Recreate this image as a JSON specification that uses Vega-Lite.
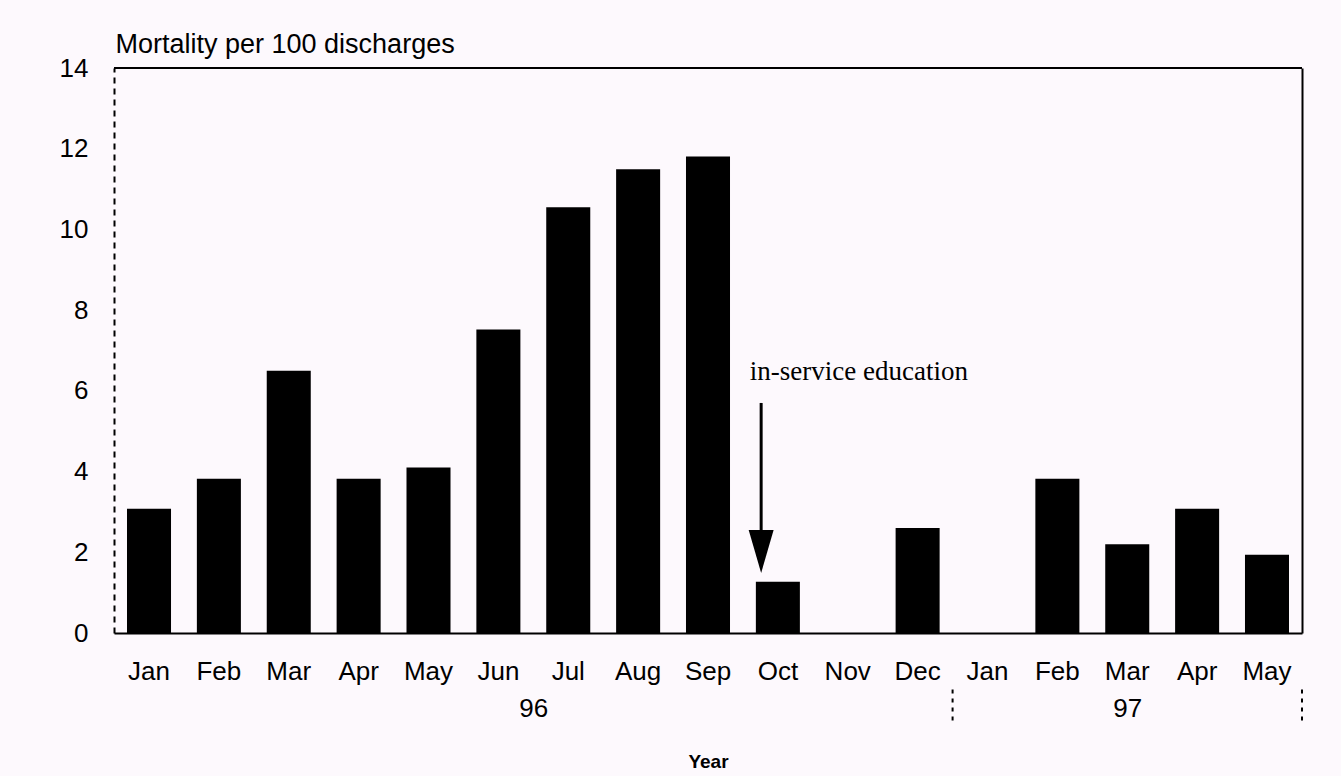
{
  "$schema": "https://vega.github.io/schema/vega-lite/v6.json",
  "width": 1188,
  "height": 565,
  "autosize": {"type": "none"},
  "padding": {"left": 114, "top": 68, "right": 39, "bottom": 143},
  "background": "#fdf9fd",
  "config": {
    "view": {"stroke": null},
    "font": "Liberation Sans",
    "axis": {"labelColor": "black", "titleColor": "black", "labelFont": "Liberation Sans", "titleFont": "Liberation Sans", "domainColor": "black", "grid": false}
  },
  "resolve": {
    "scale": {"x": "independent", "y": "independent"},
    "axis": {"x": "independent", "y": "independent"}
  },
  "layer": [
    {
      "layer": [
        {
          "data": {
            "values": [
              {"month": "Jan 96", "rate": 3.08},
              {"month": "Feb 96", "rate": 3.82},
              {"month": "Mar 96", "rate": 6.5},
              {"month": "Apr 96", "rate": 3.82},
              {"month": "May 96", "rate": 4.1},
              {"month": "Jun 96", "rate": 7.52},
              {"month": "Jul 96", "rate": 10.55},
              {"month": "Aug 96", "rate": 11.49},
              {"month": "Sep 96", "rate": 11.81},
              {"month": "Oct 96", "rate": 1.27},
              {"month": "Nov 96", "rate": 0},
              {"month": "Dec 96", "rate": 2.6},
              {"month": "Jan 97", "rate": 0},
              {"month": "Feb 97", "rate": 3.82},
              {"month": "Mar 97", "rate": 2.2},
              {"month": "Apr 97", "rate": 3.08},
              {"month": "May 97", "rate": 1.94}
            ]
          },
          "mark": {"type": "bar", "color": "black"},
          "encoding": {
            "x": {
              "field": "month", "type": "nominal", "sort": null,
              "scale": {
                "domain": ["Jan 96","Feb 96","Mar 96","Apr 96","May 96","Jun 96","Jul 96","Aug 96","Sep 96","Oct 96","Nov 96","Dec 96","Jan 97","Feb 97","Mar 97","Apr 97","May 97"],
                "paddingInner": 0.37, "paddingOuter": 0.186
              },
              "axis": {
                "orient": "bottom", "title": null, "labelAngle": 0, "ticks": false,
                "domainWidth": 2, "labelFontSize": 26, "labelPadding": 38, "labelBaseline": "middle",
                "labelExpr": "split(datum.label, ' ')[0]"
              }
            },
            "y": {
              "field": "rate", "type": "quantitative",
              "scale": {"domain": [0, 14], "nice": false},
              "axis": {
                "orient": "left", "values": [0, 2, 4, 6, 8, 10, 12, 14], "ticks": false,
                "labelFontSize": 26, "labelPadding": 26, "domainWidth": 2, "domainDash": [6, 5],
                "title": "Mortality per 100 discharges", "titleAngle": 0, "titleAlign": "left",
                "titleAnchor": "start", "titleX": 1, "titleY": -16, "titleBaseline": "alphabetic",
                "titleFontSize": 27, "titleFontWeight": "normal"
              }
            }
          }
        },
        {
          "data": {"values": [{"month": "Oct 96", "note": "in-service education"}]},
          "layer": [
            {
              "mark": {"type": "rule", "color": "black", "strokeWidth": 3},
              "encoding": {
                "x": {"field": "month", "type": "nominal", "sort": null, "bandPosition": 0.12},
                "y": {"datum": 5.7, "type": "quantitative"},
                "y2": {"datum": 2.4}
              }
            },
            {
              "mark": {"type": "point", "shape": "M-0.58,-1L0.58,-1L0,1Z", "size": 1849, "filled": true, "color": "black", "opacity": 1},
              "encoding": {
                "x": {"field": "month", "type": "nominal", "sort": null, "bandPosition": 0.12},
                "y": {"datum": 2.02, "type": "quantitative"}
              }
            },
            {
              "mark": {"type": "text", "font": "Liberation Serif", "fontSize": 27, "align": "left", "baseline": "middle", "dx": -6, "color": "black"},
              "encoding": {
                "x": {"field": "month", "type": "nominal", "sort": null, "bandPosition": 0},
                "y": {"datum": 6.47, "type": "quantitative"},
                "text": {"field": "note"}
              }
            }
          ]
        }
      ]
    },
    {
      "layer": [
        {
          "data": {"values": [{"pos": 12}, {"pos": 17}]},
          "mark": {"type": "rule", "color": "black", "strokeWidth": 2, "strokeDash": [4, 5]},
          "encoding": {
            "x": {
              "field": "pos", "type": "quantitative",
              "scale": {"domain": [0, 17], "nice": false, "zero": false},
              "axis": {
                "orient": "bottom", "values": [6, 14.5], "ticks": false, "domain": false,
                "labelExpr": "datum.value == 6 ? '96' : '97'", "labelFontSize": 26,
                "labelPadding": 75, "labelBaseline": "middle",
                "title": "Year", "titleFontSize": 19, "titleFontWeight": "bold",
                "titleY": 128, "titleBaseline": "middle"
              }
            },
            "y": {
              "datum": -1.4, "type": "quantitative",
              "scale": {"domain": [0, 14], "nice": false},
              "axis": {"orient": "right", "labels": false, "ticks": false, "title": null, "domainWidth": 2}
            },
            "y2": {"datum": -2.25}
          }
        },
        {
          "data": {"values": [{"edge": "top"}]},
          "mark": {"type": "rule", "color": "black", "strokeWidth": 2},
          "encoding": {
            "x": {"datum": 0, "type": "quantitative"},
            "x2": {"datum": 17},
            "y": {"datum": 14, "type": "quantitative"}
          }
        }
      ]
    }
  ]
}
